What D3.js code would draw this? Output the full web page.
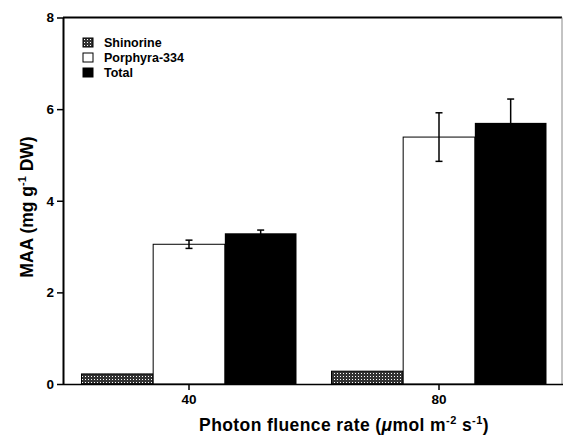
<!DOCTYPE html>
<html>
<head>
<meta charset="utf-8">
<script src="https://cdn.jsdelivr.net/npm/d3@7"></script>
<style>
  body { margin: 0; background: #fff; }
  text { font-family: "Liberation Sans", Arial, sans-serif; font-weight: bold; }
</style>
</head>
<body>
<svg id="maa-chart" width="563" height="436"></svg>
<script>
// data
const rates = ["40", "80"];
const series = ["Shinorine", "Porphyra-334", "Total"];
const shinorine = [0.22, 0.28];
const porphyra = [3.05, 5.39];
const total = [3.29, 5.70];
const porphyraErr = [0.09, 0.53];
const totalErr = [0.07, 0.52];
const yTicks = [0, 2, 4, 6, 8];

let svg = d3.select("#maa-chart");

let plotLeft = 63, plotRight = 562, plotTop = 17.5, plotBottom = 384;

// checkered fill for shinorine
let defs = svg.append("defs");
let pat = defs.append("pattern")
    .attr("id", "checks")
    .attr("width", 3).attr("height", 3)
    .attr("patternUnits", "userSpaceOnUse");
pat.append("rect").attr("width", 3).attr("height", 3).attr("fill", "#333");
pat.append("rect").attr("x", 1).attr("y", 1).attr("width", 1).attr("height", 1).attr("fill", "#fff");

let x0 = d3.scaleBand()
    .domain(rates)
    .range([plotLeft + 1, plotLeft + 501])
    .paddingInner(0.14)
    .paddingOuter(0.07);

let x1 = d3.scaleBand()
    .domain(series)
    .range([0, x0.bandwidth()]);

let y = d3.scaleLinear()
    .domain([0, 8])
    .range([plotBottom, plotTop]);

let fills = {"Shinorine": "url(#checks)", "Porphyra-334": "#fff", "Total": "#000"};
let values = {"Shinorine": shinorine, "Porphyra-334": porphyra, "Total": total};
let errs = {"Porphyra-334": porphyraErr, "Total": totalErr};

let rows = [];
rates.forEach((r, i) => {
    series.forEach(s => {
        rows.push({rate: r, series: s, value: values[s][i], err: errs[s] ? errs[s][i] : 0});
    });
});

// frame top and right
svg.append("line")
    .attr("x1", plotLeft).attr("x2", plotRight)
    .attr("y1", plotTop).attr("y2", plotTop)
    .style("stroke", "#000").style("stroke-width", 2);
svg.append("line")
    .attr("x1", plotRight).attr("x2", plotRight)
    .attr("y1", plotTop).attr("y2", plotBottom)
    .style("stroke", "#888").style("stroke-width", 1);

// bars
svg.append("g").selectAll("rect")
    .data(rows)
    .join("rect")
    .attr("x", d => x0(d.rate) + x1(d.series))
    .attr("y", d => y(d.value))
    .attr("width", x1.bandwidth())
    .attr("height", d => y(0) - y(d.value))
    .attr("fill", d => fills[d.series])
    .attr("stroke", "#000")
    .attr("stroke-width", d => d.series == "Total" ? 0 : 1);

// error bars
let eb = svg.append("g").selectAll("g")
    .data(rows.filter(d => d.err > 0))
    .join("g")
    .attr("transform", d => `translate(${x0(d.rate) + x1(d.series) + x1.bandwidth() / 2},0)`);
eb.append("line")
    .attr("y1", d => y(d.value - d.err))
    .attr("y2", d => y(d.value + d.err))
    .style("stroke", "#000").style("stroke-width", 1.5);
eb.append("line")
    .attr("x1", -3.5).attr("x2", 3.5)
    .attr("y1", d => y(d.value + d.err))
    .attr("y2", d => y(d.value + d.err))
    .style("stroke", "#000").style("stroke-width", 1.5);
eb.append("line")
    .attr("x1", -3.5).attr("x2", 3.5)
    .attr("y1", d => y(d.value - d.err))
    .attr("y2", d => y(d.value - d.err))
    .style("stroke", "#000").style("stroke-width", 1.5);

// axes
let yAxis = svg.append("g")
    .attr("transform", `translate(${plotLeft},0)`)
    .call(d3.axisLeft(y).tickValues(yTicks).tickSize(6).tickPadding(3).tickSizeOuter(0));
yAxis.select(".domain").style("stroke-width", 2);
yAxis.selectAll(".tick line").style("stroke-width", 1.5);
yAxis.selectAll("text").style("font-size", "13.5px").attr("fill", "#000");

let xAxis = svg.append("g")
    .attr("transform", `translate(0,${plotBottom})`)
    .call(d3.axisBottom(x0).tickSize(6).tickPadding(4).tickSizeOuter(0));
xAxis.select(".domain").attr("d", `M${plotLeft},0.5H${plotRight + 1}`).style("stroke-width", 1.5);
xAxis.selectAll(".tick line").style("stroke-width", 1.5);
xAxis.selectAll("text").style("font-size", "13.5px").attr("fill", "#000");

// axis titles
let yt = svg.append("text")
    .attr("transform", "translate(33,207) rotate(-90)")
    .attr("text-anchor", "middle")
    .style("font-size", "17.5px");
yt.append("tspan").text("MAA (mg g");
yt.append("tspan").attr("dy", -7).style("font-size", "11px").text("-1");
yt.append("tspan").attr("dy", 7).text(" DW)");

let xt = svg.append("text")
    .attr("x", 344).attr("y", 431)
    .attr("text-anchor", "middle")
    .style("font-size", "17.5px")
    .style("letter-spacing", "0.4px");
xt.append("tspan").text("Photon fluence rate (");
xt.append("tspan").style("font-style", "italic").text("μ");
xt.append("tspan").text("mol m");
xt.append("tspan").attr("dy", -7).style("font-size", "11px").text("-2");
xt.append("tspan").attr("dy", 7).text(" s");
xt.append("tspan").attr("dy", -7).style("font-size", "11px").text("-1");
xt.append("tspan").attr("dy", 7).text(")");

// legend
let legend = svg.append("g").selectAll("g")
    .data(series)
    .join("g")
    .attr("transform", (d, i) => `translate(83,${38 + i * 15})`);
legend.append("rect")
    .attr("width", 10).attr("height", 9)
    .attr("fill", d => fills[d])
    .attr("stroke", "#000").attr("stroke-width", 1);
legend.append("text")
    .attr("x", 21).attr("y", 8.5)
    .style("font-size", "12.5px")
    .text(d => d);
</script>
</body>
</html>
